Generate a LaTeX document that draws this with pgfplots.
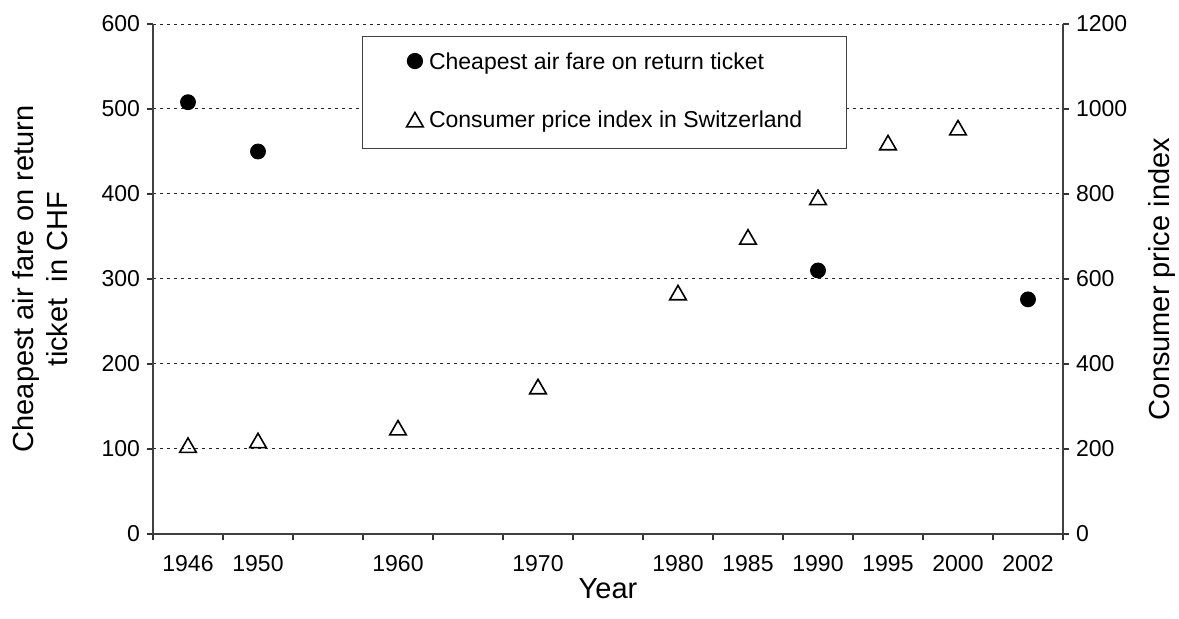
\documentclass[border=0pt]{standalone}
\usepackage{fontspec}
\setmainfont{Liberation Sans}
\usepackage{pgfplots}
\pgfplotsset{compat=1.18}

\pgfplotsset{
  base/.style={
    scale only axis, width=455pt, height=255pt,
    xmin=-0.5, xmax=12.5,
    tick align=outside, major tick length=3pt,
    tick style={black!80, line width=0.6pt},
    axis line style={black!75, line width=0.8pt},
    tick label style={font=\fontsize{11.5}{13}\selectfont},
    label style={font=\fontsize{14.5}{17}\selectfont},
    /pgf/number format/1000 sep={},
    /pgf/number format/assume math mode=true,
  },
  fare/.style={only marks, mark=*, mark size=3.75pt,
    mark options={draw=black, fill=black}},
  cpi/.style={only marks, mark=triangle, mark size=4.8pt,
    mark options={draw=black, fill=white, line width=0.8pt, yshift=-1.2pt}},
}

\begin{document}
\begin{tikzpicture}
\begin{axis}[base, name=ax,
  axis x line*=bottom, axis y line*=left,
  ymin=0, ymax=600, ytick={0,100,...,600},
  ymajorgrids,
  grid style={black!85, dash pattern=on 1.5pt off 2pt, line width=0.5pt},
  xtick={-0.5,0.5,...,12.5},
  xticklabels={1946,1950,,1960,,1970,,1980,1985,1990,1995,2000,2002,},
  xticklabel style={xshift=17.5pt, yshift=-4pt},
  xlabel={Year},
  xlabel style={at={(axis description cs:0.5,-0.087)}, anchor=north, inner sep=0pt},
  ylabel={Cheapest air fare on return\\ticket\ \ in CHF},
  ylabel style={align=center, rotate=0, at={(axis description cs:-0.155,0.5)},
    anchor=north, inner sep=0pt},
  legend image code/.code={\draw[#1] plot coordinates {(0pt,1.1pt)};},
  legend cell align=left,
  legend style={at={(rel axis cs:0.2297,0.976)}, anchor=north west,
    draw=black!75, line width=0.6pt, fill=white,
    font=\fontsize{11.5}{13}\selectfont,
    inner xsep=22pt, inner ysep=7.7pt, row sep=18.3pt, column sep=2.9pt,
    nodes={inner sep=0pt, text height=8.5pt, text depth=2.5pt}},
]
% cheapest return air fare, CHF
\addplot[fare] coordinates {
  (0,508) (1,450) (9,310) (12,276)
};
\addlegendentry{Cheapest air fare on return ticket}
\addlegendimage{cpi}
\addlegendentry{Consumer price index in Switzerland}
\end{axis}

\begin{axis}[base,
  axis y line*=right, axis x line=none,
  ymin=0, ymax=1200, ytick={0,200,...,1200},
  ylabel={Consumer price index},
  ylabel style={rotate=0, at={(axis description cs:1.0934,0.5)}, anchor=north, inner sep=0pt},
]
% consumer price index
\addplot[cpi] coordinates {
  (0,209) (1,220) (3,250) (5,347) (7,568) (8,699) (9,792) (10,921) (11,956)
};
\end{axis}

\pgfresetboundingbox
\path ([shift={(-76.5pt,-42.5pt)}]ax.south west) rectangle ([shift={(58pt,12pt)}]ax.north east);
\end{tikzpicture}
\end{document}
